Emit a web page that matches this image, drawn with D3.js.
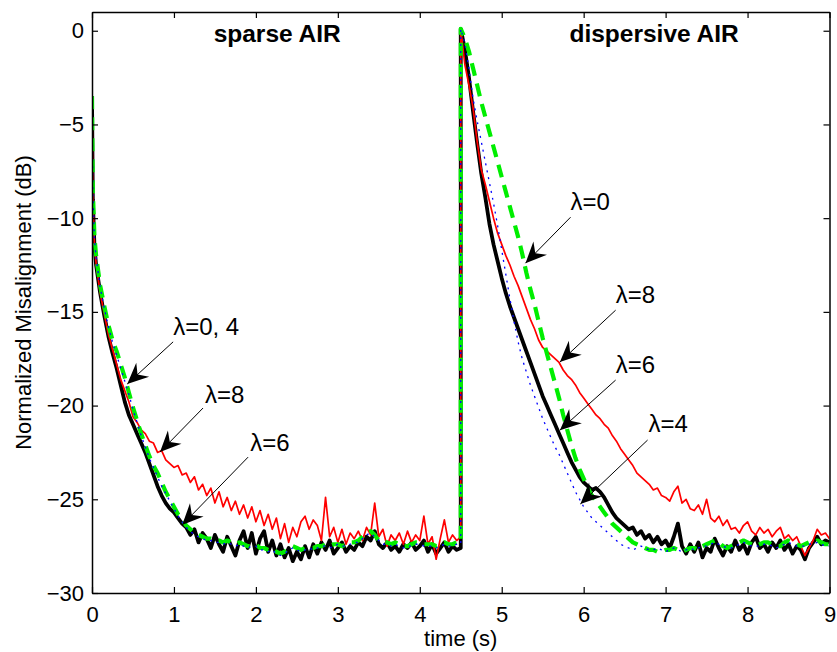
<!DOCTYPE html>
<html>
<head>
<meta charset="utf-8">
<script src="https://d3js.org/d3.v7.min.js"></script>
<style>
body { margin: 0; background: #fff; }
text { font-family: "Liberation Sans", Arial, Helvetica, sans-serif; fill: #000; }
</style>
</head>
<body>
<div id="myDataVis"></div>
<script>
// sample times (s) of the two halves of the experiment
var timeSparse = [0, 0.01, 0.03, 0.05,
    0.1, 0.15, 0.2, 0.25, 0.3, 0.35, 0.4, 0.45, 0.5, 0.55,
    0.6, 0.65, 0.7, 0.75, 0.8, 0.85, 0.9, 0.95, 1.0, 1.05,
    1.1, 1.15, 1.2, 1.25, 1.3, 1.35, 1.4, 1.45, 1.5, 1.55,
    1.6, 1.65, 1.7, 1.75, 1.8, 1.85, 1.9, 1.95, 2.0, 2.05,
    2.1, 2.15, 2.2, 2.25, 2.3, 2.35, 2.4, 2.45, 2.5, 2.55,
    2.6, 2.65, 2.7, 2.75, 2.8, 2.85, 2.9, 2.95, 3.0, 3.05,
    3.1, 3.15, 3.2, 3.25, 3.3, 3.35, 3.4, 3.45, 3.5, 3.55,
    3.6, 3.65, 3.7, 3.75, 3.8, 3.85, 3.9, 3.95, 4.0, 4.05,
    4.1, 4.15, 4.2, 4.25, 4.3, 4.35, 4.4, 4.45, 4.5];
var timeDispersive = [4.5, 4.55, 4.6, 4.65, 4.7, 4.75, 4.8, 4.85, 4.9, 4.95,
    5.0, 5.05, 5.1, 5.15, 5.2, 5.25, 5.3, 5.35, 5.4, 5.45,
    5.5, 5.55, 5.6, 5.65, 5.7, 5.75, 5.8, 5.85, 5.9, 5.95,
    6.0, 6.05, 6.1, 6.15, 6.2, 6.25, 6.3, 6.35, 6.4, 6.45,
    6.5, 6.55, 6.6, 6.65, 6.7, 6.75, 6.8, 6.85, 6.9, 6.95,
    7.0, 7.05, 7.1, 7.15, 7.2, 7.25, 7.3, 7.35, 7.4, 7.45,
    7.5, 7.55, 7.6, 7.65, 7.7, 7.75, 7.8, 7.85, 7.9, 7.95,
    8.0, 8.05, 8.1, 8.15, 8.2, 8.25, 8.3, 8.35, 8.4, 8.45,
    8.5, 8.55, 8.6, 8.65, 8.7, 8.75, 8.8, 8.85, 8.9, 8.95,
    9.0];

// normalized misalignment (dB), lambda = 0
var sparseL0 = [-3.5, -8.5, -11.0, -12.0,
    -13.6, -14.7, -15.7, -16.5, -17.1, -17.8, -18.5, -19.3, -20.1, -20.8,
    -21.5, -22.1, -22.7, -23.2, -23.6, -24.1, -24.6, -25.0, -25.4, -25.8,
    -26.1, -26.4, -26.6, -26.8, -26.9, -27.0, -27.1, -27.1, -27.2, -27.2,
    -27.3, -27.2, -27.3, -27.4, -27.3, -27.4, -27.5, -27.5, -27.4, -27.6,
    -27.6, -27.7, -27.6, -27.8, -27.9, -27.8, -27.6, -27.5, -27.6, -27.7,
    -27.6, -27.6, -27.6, -27.5, -27.5, -27.4, -27.5, -27.4, -27.4, -27.5,
    -27.4, -27.3, -27.3, -27.2, -27.0, -26.8, -26.7, -26.9, -27.2, -27.3,
    -27.3, -27.4, -27.3, -27.4, -27.5, -27.5, -27.4, -27.3, -27.3, -27.4,
    -27.4, -27.4, -27.5, -27.4, -27.3, -27.4, -27.4, -27.3, -27.3];
var dispL0 = [0.1, -0.4, -1.1, -2.0, -2.9, -3.8, -4.6, -5.4, -6.2, -7.0,
    -7.8, -8.6, -9.4, -10.2, -11.0, -11.9, -12.9, -13.8, -14.6, -15.5,
    -16.4, -17.2, -18.0, -18.8, -19.6, -20.5, -21.3, -22.1, -22.8, -23.4,
    -23.9, -24.4, -24.8, -25.1, -25.4, -25.7, -26.0, -26.3, -26.5, -26.7,
    -26.9, -27.1, -27.3, -27.4, -27.5, -27.6, -27.7, -27.7, -27.8, -27.8,
    -27.7, -27.7, -27.6, -27.7, -27.8, -27.7, -27.6, -27.6, -27.7, -27.5,
    -27.4, -27.3, -27.2, -27.3, -27.5, -27.6, -27.5, -27.4, -27.3, -27.2,
    -27.3, -27.4, -27.5, -27.4, -27.3, -27.3, -27.4, -27.5, -27.5, -27.3,
    -27.2, -27.3, -27.4, -27.5, -27.4, -27.3, -27.3, -27.2, -27.3, -27.4,
    -27.4];

// lambda = 4
var sparseL4 = [-3.5, -8.6, -11.1, -12.1,
    -13.7, -14.8, -15.8, -16.6, -17.3, -18.0, -18.7, -19.4, -20.2, -20.9,
    -21.6, -22.2, -22.8, -23.3, -23.8, -24.3, -24.7, -25.1, -25.5, -25.9,
    -26.2, -26.5, -26.7, -26.9, -27.0, -27.1, -27.2, -27.2, -27.3, -27.3,
    -27.4, -27.3, -27.4, -27.5, -27.4, -27.5, -27.6, -27.5, -27.5, -27.7,
    -27.7, -27.8, -27.7, -27.9, -28.0, -27.9, -27.7, -27.6, -27.7, -27.8,
    -27.7, -27.6, -27.7, -27.6, -27.5, -27.5, -27.6, -27.5, -27.4, -27.5,
    -27.5, -27.4, -27.3, -27.3, -27.1, -26.9, -26.8, -27.0, -27.2, -27.4,
    -27.4, -27.5, -27.4, -27.5, -27.6, -27.5, -27.5, -27.4, -27.4, -27.5,
    -27.5, -27.5, -27.6, -27.5, -27.4, -27.5, -27.5, -27.4, -27.4];
var dispL4 = [0.1, -0.7, -2.0, -3.6, -4.8, -5.9, -7.0, -8.1, -9.2, -10.4,
    -11.7, -13.0, -14.3, -15.5, -16.6, -17.5, -18.2, -18.9, -19.5, -20.1,
    -20.7, -21.2, -21.7, -22.2, -22.6, -23.1, -23.6, -24.1, -24.6, -25.0,
    -25.4, -25.7, -26.0, -26.2, -26.4, -26.6, -26.8, -27.0, -27.2, -27.4,
    -27.5, -27.6, -27.7, -27.6, -27.5, -27.6, -27.7, -27.7, -27.6, -27.7,
    -27.8, -27.7, -27.6, -27.7, -27.8, -27.7, -27.6, -27.7, -27.6, -27.5,
    -27.5, -27.4, -27.3, -27.4, -27.5, -27.6, -27.6, -27.5, -27.4, -27.3,
    -27.4, -27.5, -27.5, -27.5, -27.4, -27.4, -27.5, -27.6, -27.5, -27.4,
    -27.3, -27.4, -27.5, -27.5, -27.5, -27.4, -27.4, -27.3, -27.4, -27.5,
    -27.5];

// lambda = 6
var sparseL6 = [-3.5, -9.0, -11.5, -12.5,
    -14.0, -15.2, -16.3, -17.2, -18.0, -18.9, -19.8, -20.5, -21.0, -21.5,
    -22.0, -22.5, -23.1, -23.7, -24.3, -24.8, -25.2, -25.5, -25.7, -26.0,
    -26.3, -26.5, -26.9, -26.6, -27.3, -26.8, -27.1, -27.6, -26.9, -27.4,
    -27.8, -27.0, -27.5, -28.0, -27.2, -26.7, -27.6, -26.8, -27.9, -27.1,
    -26.7, -27.8, -27.2, -28.0, -27.4, -28.1, -27.6, -28.3, -27.8, -28.2,
    -27.5, -28.1, -27.4, -27.9, -27.3, -27.7, -27.2, -27.9, -27.6, -27.3,
    -27.8, -27.5, -27.7, -27.3, -27.5, -27.0, -27.2, -26.7, -27.4, -27.6,
    -27.3, -27.7, -27.5, -27.8, -27.4, -27.6, -27.3, -27.7, -27.5, -27.2,
    -27.8, -27.4, -27.9, -27.6, -27.3, -27.8, -27.5, -27.7, -27.6];
var dispL6 = [0.1, -1.0, -2.5, -4.3, -6.0, -7.6, -8.9, -10.3, -11.4, -12.3,
    -13.2, -14.0, -14.7, -15.3, -15.9, -16.5, -17.1, -17.7, -18.3, -18.9,
    -19.5, -20.0, -20.5, -21.0, -21.5, -22.0, -22.5, -23.0, -23.4, -23.8,
    -24.1, -24.3, -24.5, -24.4, -24.6, -24.9, -25.3, -25.7, -26.0, -26.2,
    -26.4, -26.6, -26.5, -26.9, -26.7, -27.1, -26.9, -27.3, -27.0, -27.4,
    -27.2, -27.6, -27.0, -26.3, -27.5, -27.9, -27.4, -27.8, -27.3, -28.1,
    -27.6, -27.8, -27.1, -27.6, -28.0, -27.5, -27.8, -27.2, -27.7, -27.4,
    -27.9, -27.3, -27.0, -27.6, -27.4, -27.8, -27.3, -27.6, -27.2, -27.7,
    -27.4, -27.9, -27.5, -27.7, -28.2, -27.6, -27.3, -27.0, -27.4, -27.2,
    -27.3];

// lambda = 8
var sparseL8 = [-3.5, -9.0, -11.4, -12.4,
    -14.0, -15.1, -16.2, -17.0, -17.8, -18.6, -19.2, -19.8, -20.6, -20.9,
    -21.3, -21.5, -21.9, -22.0, -22.5, -22.4, -22.9, -23.1, -23.3, -23.2,
    -23.7, -23.6, -24.1, -23.8, -24.5, -24.2, -24.8, -24.4, -25.2, -24.6,
    -25.4, -24.9, -25.6, -25.1, -25.8, -25.3, -26.0, -25.4, -26.2, -25.6,
    -26.4, -25.8, -26.6, -26.0, -27.1, -26.3, -27.3, -26.5, -27.0, -26.2,
    -25.9, -26.6, -26.1, -26.4, -27.2, -24.9, -27.0, -26.5, -27.3, -26.6,
    -27.4, -26.8, -27.1, -26.7, -27.2, -26.5, -26.9, -25.2, -27.0, -26.6,
    -27.5, -26.9, -27.2, -26.8, -27.4, -26.7, -27.3, -26.9, -27.2, -25.9,
    -27.4, -27.0, -28.2, -27.1, -26.1, -27.3, -26.9, -27.2, -27.0];
var dispL8 = [0.1, -1.8, -2.9, -4.1, -5.9, -7.4, -8.2, -9.1, -10.0, -10.8,
    -11.4, -12.0, -12.5, -13.1, -13.6, -14.2, -14.8, -15.4, -15.9, -16.5,
    -16.9, -17.1, -17.3, -17.5, -17.7, -18.1, -18.4, -18.6, -18.9, -19.3,
    -19.6, -19.9, -20.2, -20.5, -20.7, -21.0, -21.2, -21.6, -21.9, -22.3,
    -22.6, -22.9, -23.2, -23.6, -23.8, -24.0, -24.2, -24.5, -24.4, -24.8,
    -24.9, -25.1, -24.6, -24.3, -25.2, -25.0, -25.5, -25.6, -25.3, -25.8,
    -25.0, -26.0, -26.2, -25.9, -26.4, -26.1, -26.6, -26.5, -26.8, -26.4,
    -26.2, -26.7, -26.9, -26.5, -26.8, -26.6, -27.0, -26.7, -26.5, -27.1,
    -26.9, -27.2, -27.0, -27.5, -28.0, -27.6, -27.2, -26.6, -26.9, -26.8,
    -27.1];

var xTicks = [0, 1, 2, 3, 4, 5, 6, 7, 8, 9];
var yTicks = [0, -5, -10, -15, -20, -25, -30];

var panelTitles = ["sparse AIR", "dispersive AIR"];
var panelTitleAt = [[2.26, -0.6], [6.86, -0.6]];

// arrow annotations: label, label anchor, arrow tail, arrow tip (data units)
var annLabels = ["\u03bb=0, 4", "\u03bb=8", "\u03bb=6", "\u03bb=0", "\u03bb=8", "\u03bb=6", "\u03bb=4"];
var annText = [[0.99, -16.24], [1.38, -19.87], [1.93, -22.43], [5.84, -9.57], [6.39, -14.53], [6.39, -18.27], [6.79, -21.41]];
var annTail = [[0.99, -16.6], [1.355, -20.13], [1.905, -22.75], [5.84, -9.95], [6.39, -14.91], [6.39, -18.64], [6.78, -21.84]];
var annTip = [[0.43, -18.85], [0.83, -22.48], [1.10, -26.37], [5.29, -12.4], [5.71, -17.68], [5.71, -21.31], [5.96, -25.25]];

document.addEventListener('DOMContentLoaded', function () {
    drawChart();
});

function joinSeries(a, b) {
    var pts = [];
    for (let i = 0; i < timeSparse.length; i++) {
        pts.push({ t: timeSparse[i], v: a[i] });
    }
    for (let i = 0; i < timeDispersive.length; i++) {
        pts.push({ t: timeDispersive[i], v: b[i] });
    }
    return pts;
}

function drawChart() {
    var margin = {top: 12, right: 7.5, bottom: 59, left: 92},
        width = 837 - margin.left - margin.right,
        height = 652 - margin.top - margin.bottom;

    var svg = d3.select("#myDataVis")
        .append("svg")
            .attr("width", 837)
            .attr("height", 652)
        .append("g")
            .attr("transform", "translate(" + margin.left + "," + margin.top + ")");

    var x = d3.scaleLinear().domain([0, 9]).range([0, width]);
    var y = d3.scaleLinear().domain([-30, 1]).range([height, 0]);

    svg.append("clipPath").attr("id", "plotclip")
        .append("rect").attr("width", width).attr("height", height);

    var line = d3.line()
        .x(function(d) { return x(d.t); })
        .y(function(d) { return y(d.v); });

    var series = [
        { pts: joinSeries(sparseL6, dispL6), color: "#000000", w: 3.8, dash: null },
        { pts: joinSeries(sparseL8, dispL8), color: "#ff0000", w: 1.7, dash: null },
        { pts: joinSeries(sparseL0, dispL0), color: "#00ee00", w: 4.2, dash: "13,8" },
        { pts: joinSeries(sparseL4, dispL4), color: "#0000ff", w: 1.3, dash: "2,5" }
    ];

    var plot = svg.append("g").attr("clip-path", "url(#plotclip)");
    series.forEach(function(s) {
        plot.append("path")
            .datum(s.pts)
            .attr("d", line)
            .attr("fill", "none")
            .attr("stroke", s.color)
            .attr("stroke-width", s.w)
            .attr("stroke-linejoin", "round")
            .attr("stroke-dasharray", s.dash);
    });

    // axes, ticks pointing inward on all four sides
    var fontSize = "22px";
    svg.append("g")
        .attr("transform", "translate(0," + height + ")")
        .call(d3.axisBottom(x).tickValues(xTicks).tickSize(-6).tickSizeOuter(0).tickPadding(13));
    svg.append("g")
        .call(d3.axisLeft(y).tickValues(yTicks).tickSize(-6).tickSizeOuter(0).tickPadding(8));
    svg.append("g")
        .call(d3.axisTop(x).tickValues(xTicks).tickSize(-6).tickSizeOuter(0).tickFormat(""));
    svg.append("g")
        .attr("transform", "translate(" + width + ",0)")
        .call(d3.axisRight(y).tickValues(yTicks).tickSize(-6).tickSizeOuter(0).tickFormat(""));

    svg.selectAll(".domain").attr("stroke", "#000").attr("stroke-width", 1.5);
    svg.selectAll(".tick line").attr("stroke", "#000").attr("stroke-width", 1.2);
    svg.selectAll(".tick text")
        .style("font-size", fontSize)
        .style("font-family", '"Liberation Sans", Arial, sans-serif')
        .attr("fill", "#000");

    // axis titles
    svg.append("text")
        .attr("x", width / 2)
        .attr("y", height + 53)
        .style("text-anchor", "middle")
        .style("font-size", "22px")
        .text("time (s)");

    svg.append("text")
        .attr("transform", "rotate(-90)")
        .attr("x", -height / 2)
        .attr("y", -61)
        .style("text-anchor", "middle")
        .style("font-size", "22px")
        .text("Normalized Misalignment (dB)");

    // panel titles
    for (let i = 0; i < panelTitles.length; i++) {
        svg.append("text")
            .attr("x", x(panelTitleAt[i][0]))
            .attr("y", y(panelTitleAt[i][1]))
            .style("text-anchor", "middle")
            .style("font-size", "24.5px")
            .style("font-weight", "bold")
            .text(panelTitles[i]);
    }

    // annotation arrows
    for (let i = 0; i < annLabels.length; i++) {
        var x1 = x(annTail[i][0]), y1 = y(annTail[i][1]);
        var x2 = x(annTip[i][0]), y2 = y(annTip[i][1]);
        var ang = Math.atan2(y2 - y1, x2 - x1) * 180 / Math.PI;

        svg.append("line")
            .attr("x1", x1).attr("y1", y1)
            .attr("x2", x2).attr("y2", y2)
            .attr("stroke", "#000")
            .attr("stroke-width", 1);

        svg.append("path")
            .attr("d", "M0,0L-21,-9.5L-14,0L-21,9.5Z")
            .attr("transform", "translate(" + x2 + "," + y2 + ") rotate(" + ang + ")")
            .attr("fill", "#000");

        svg.append("text")
            .attr("x", x(annText[i][0]))
            .attr("y", y(annText[i][1]))
            .style("font-size", "24px")
            .text(annLabels[i]);
    }
}
</script>
</body>
</html>
